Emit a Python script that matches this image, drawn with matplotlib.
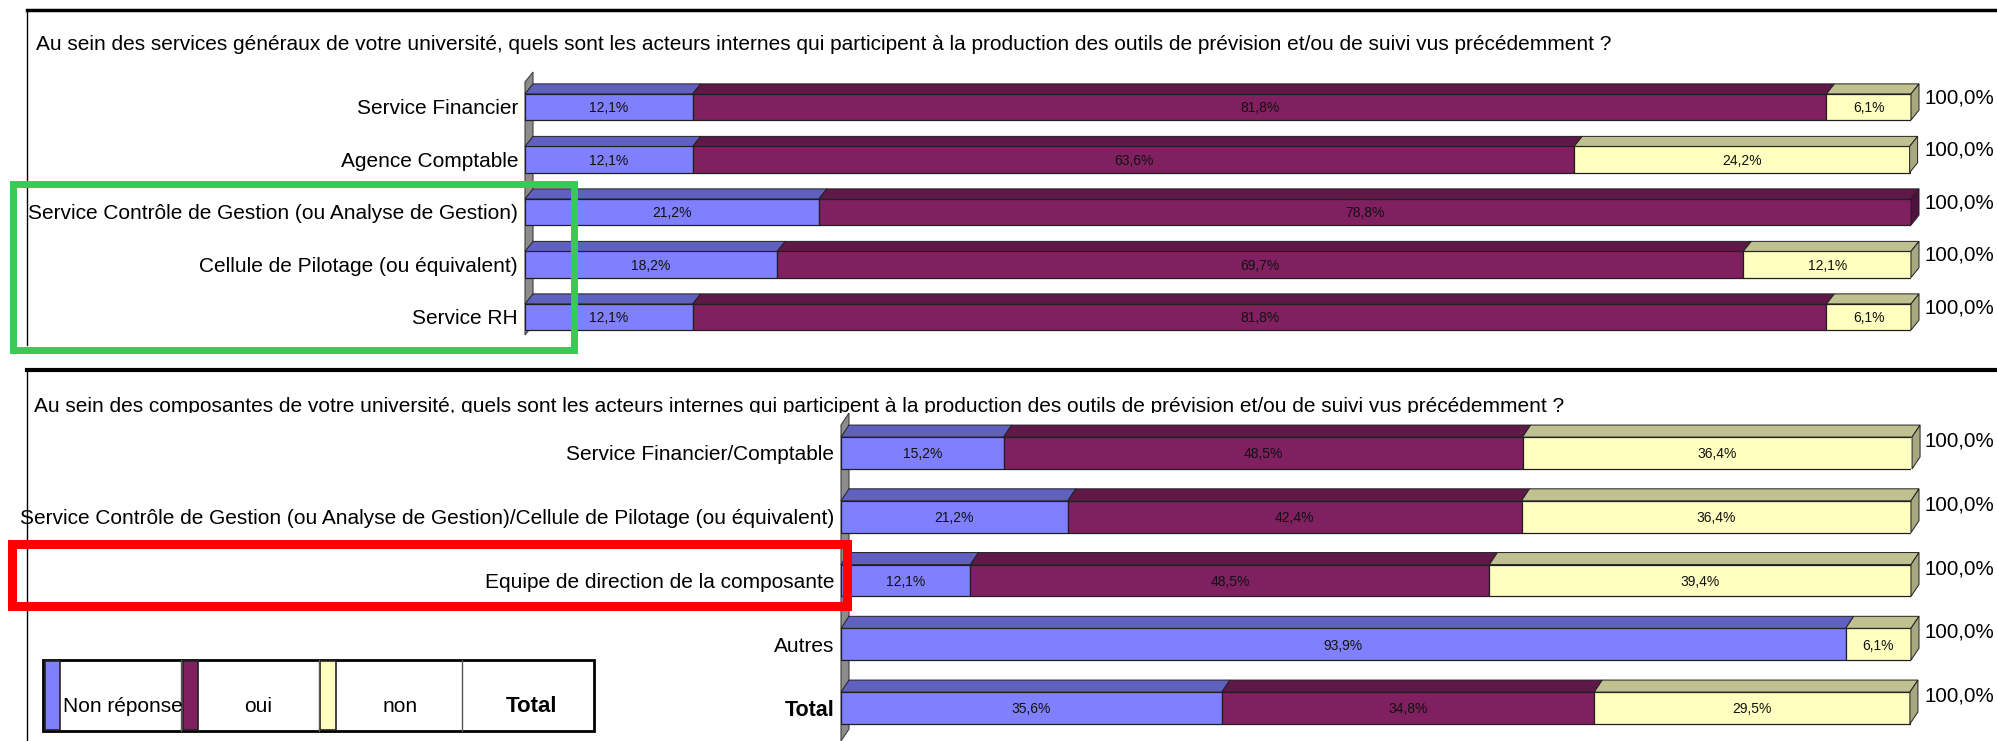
import matplotlib
matplotlib.use("Agg")
import matplotlib.pyplot as plt
from matplotlib.patches import Polygon, Rectangle
from matplotlib.lines import Line2D

# data
series = ["Non réponse", "oui", "non"]

title_top = ("Au sein des services généraux de votre université, quels sont les acteurs internes "
             "qui participent à la production des outils de prévision et/ou de suivi vus précédemment ?")
cats_top = ["Service Financier", "Agence Comptable",
            "Service Contrôle de Gestion (ou Analyse de Gestion)",
            "Cellule de Pilotage (ou équivalent)", "Service RH"]
nonrep_top = [12.1, 12.1, 21.2, 18.2, 12.1]
oui_top = [81.8, 63.6, 78.8, 69.7, 81.8]
non_top = [6.1, 24.2, 0.0, 12.1, 6.1]
total_top = [100.0, 100.0, 100.0, 100.0, 100.0]

title_bot = ("Au sein des composantes de votre université, quels sont les acteurs internes "
             "qui participent à la production des outils de prévision et/ou de suivi vus précédemment ?")
cats_bot = ["Service Financier/Comptable",
            "Service Contrôle de Gestion (ou Analyse de Gestion)/Cellule de Pilotage (ou équivalent)",
            "Equipe de direction de la composante", "Autres", "Total"]
nonrep_bot = [15.2, 21.2, 12.1, 93.9, 35.6]
oui_bot = [48.5, 42.4, 48.5, 0.0, 34.8]
non_bot = [36.4, 36.4, 39.4, 6.1, 29.5]
total_bot = [100.0, 100.0, 100.0, 100.0, 100.0]

front = ["#8080FF", "#802060", "#FFFFC0"]
topc = ["#6060C0", "#601848", "#C0C090"]
sidec = ["#5050A8", "#501040", "#A8A880"]
edge = "#202020"

plt.rcParams["font.family"] = ["Liberation Sans", "DejaVu Sans"]

W, H = 1997, 741
fig = plt.figure(figsize=(W / 100, H / 100), dpi=100)


def fx(x):
    return x / W


def fy(y):
    return 1 - y / H


def fmt(v):
    return f"{v:.1f}%".replace(".", ",")


def panel(box, row0, step, cats, cols, totals, dpx):
    # box = (left, top, right, bottom) in pixels
    l, t, r, b = box
    ax = fig.add_axes([fx(l), fy(b), (r - l) / W, (b - t) / H])
    n = len(cats)
    ax.set_xlim(0, 100)
    ax.set_ylim(n - 1 + (b - row0 - (n - 1) * step) / step, -(row0 - t) / step)
    ax.set_facecolor("none")
    for s in ax.spines.values():
        s.set_visible(False)
    ax.set_xticks([])
    ax.set_yticks(range(n))
    ax.set_yticklabels(cats, fontsize=15)
    if cats[-1] == "Total":
        ax.get_yticklabels()[-1].set_fontweight("bold")
        ax.get_yticklabels()[-1].set_fontsize(15.5)
    ax.tick_params(axis="y", length=0, pad=5)

    ddx = dpx[0] * 100 / (r - l)
    ddy = dpx[1] / step
    h = 0.5
    y0, y1 = ax.get_ylim()
    # side wall
    ax.add_patch(Polygon([(0, y0), (0, y1 + ddy), (ddx, y1), (ddx, y0 - ddy)],
                         closed=True, facecolor="#8C8C8C", edgecolor="#404040",
                         lw=0.8, clip_on=False, zorder=1))
    for i in range(n):
        left = 0
        ytop = i - h / 2
        last = None
        for j, vals in enumerate(cols):
            v = vals[i]
            if v <= 0:
                continue
            ax.barh(i, v, left=left, height=h, color=front[j], edgecolor=edge,
                    lw=0.9, zorder=2)
            ax.add_patch(Polygon([(left, ytop), (left + v, ytop),
                                  (left + v + ddx, ytop - ddy), (left + ddx, ytop - ddy)],
                                 closed=True, facecolor=topc[j], edgecolor=edge,
                                 lw=0.7, clip_on=False, zorder=2))
            ax.text(left + v / 2, i + 0.02, fmt(v), ha="center", va="center",
                    fontsize=10, color="#111111", zorder=4)
            left += v
            last = j
        ax.add_patch(Polygon([(left, ytop), (left + ddx, ytop - ddy),
                              (left + ddx, ytop + h - ddy), (left, ytop + h)],
                             closed=True, facecolor=sidec[last], edgecolor=edge,
                             lw=0.7, clip_on=False, zorder=2))
        ax.annotate(fmt(totals[i]), xy=(100, ytop), xytext=(dpx[0] + 6, -4),
                    textcoords="offset pixels", ha="left", va="center",
                    fontsize=14.8, annotation_clip=False)
    return ax


# frames and titles
fig.add_artist(Line2D([fx(27), 1], [fy(10), fy(10)], color="black", lw=2.5))
fig.add_artist(Line2D([fx(27), fx(27)], [fy(10), fy(345)], color="black", lw=1))
fig.add_artist(Line2D([fx(27), 1], [fy(370), fy(370)], color="black", lw=3))
fig.add_artist(Line2D([fx(27), fx(27)], [fy(370), 0], color="black", lw=1, zorder=5))
fig.text(fx(36), fy(50), title_top, fontsize=15, va="baseline", ha="left")
fig.text(fx(34), fy(412), title_bot, fontsize=15, va="baseline", ha="left", zorder=-2)
fig.add_artist(Rectangle((fx(28), 0), 1, fy(413), transform=fig.transFigure,
                         facecolor="white", edgecolor="none", zorder=-1))

panel((525, 72, 1911, 335), 107, 52.5, cats_top,
      [nonrep_top, oui_top, non_top], total_top, (8, 10))
panel((841, 413, 1911, 741), 453, 63.75, cats_bot,
      [nonrep_bot, oui_bot, non_bot], total_bot, (8, 12))

# legend table
lg = dict(transform=fig.transFigure)
fig.add_artist(Rectangle((fx(43), fy(731)), (594 - 43) / W, (731 - 660) / H,
                         facecolor="white", edgecolor="black", lw=2, **lg))
for xd in [181, 319, 462]:
    fig.add_artist(Line2D([fx(xd), fx(xd)], [fy(660), fy(731)], color="#555555", lw=1))
for j, (x0, x1) in enumerate([(45, 60), (183, 198), (320, 336)]):
    fig.add_artist(Rectangle((fx(x0), fy(730)), (x1 - x0) / W, (730 - 661) / H,
                             facecolor=front[j], edgecolor="#222222", lw=1.2, **lg))
fig.text(fx(63), fy(706), series[0], fontsize=15, ha="left", va="center")
fig.text(fx(258), fy(706), series[1], fontsize=15, ha="center", va="center")
fig.text(fx(400), fy(706), series[2], fontsize=15, ha="center", va="center")
fig.text(fx(531), fy(706), "Total", fontsize=16, ha="center", va="center", fontweight="bold")

# highlight boxes
fig.add_artist(Rectangle((fx(12.5), fy(349.5)), (573.5 - 12.5) / W, (349.5 - 183.5) / H,
                         facecolor="none", edgecolor="#33CC55", lw=5, zorder=10, **lg))
fig.add_artist(Rectangle((fx(12), fy(606)), (847 - 12) / W, (606 - 544) / H,
                         facecolor="none", edgecolor="#FF0000", lw=6.5, zorder=10, **lg))

fig.savefig("out.png", dpi=100)
